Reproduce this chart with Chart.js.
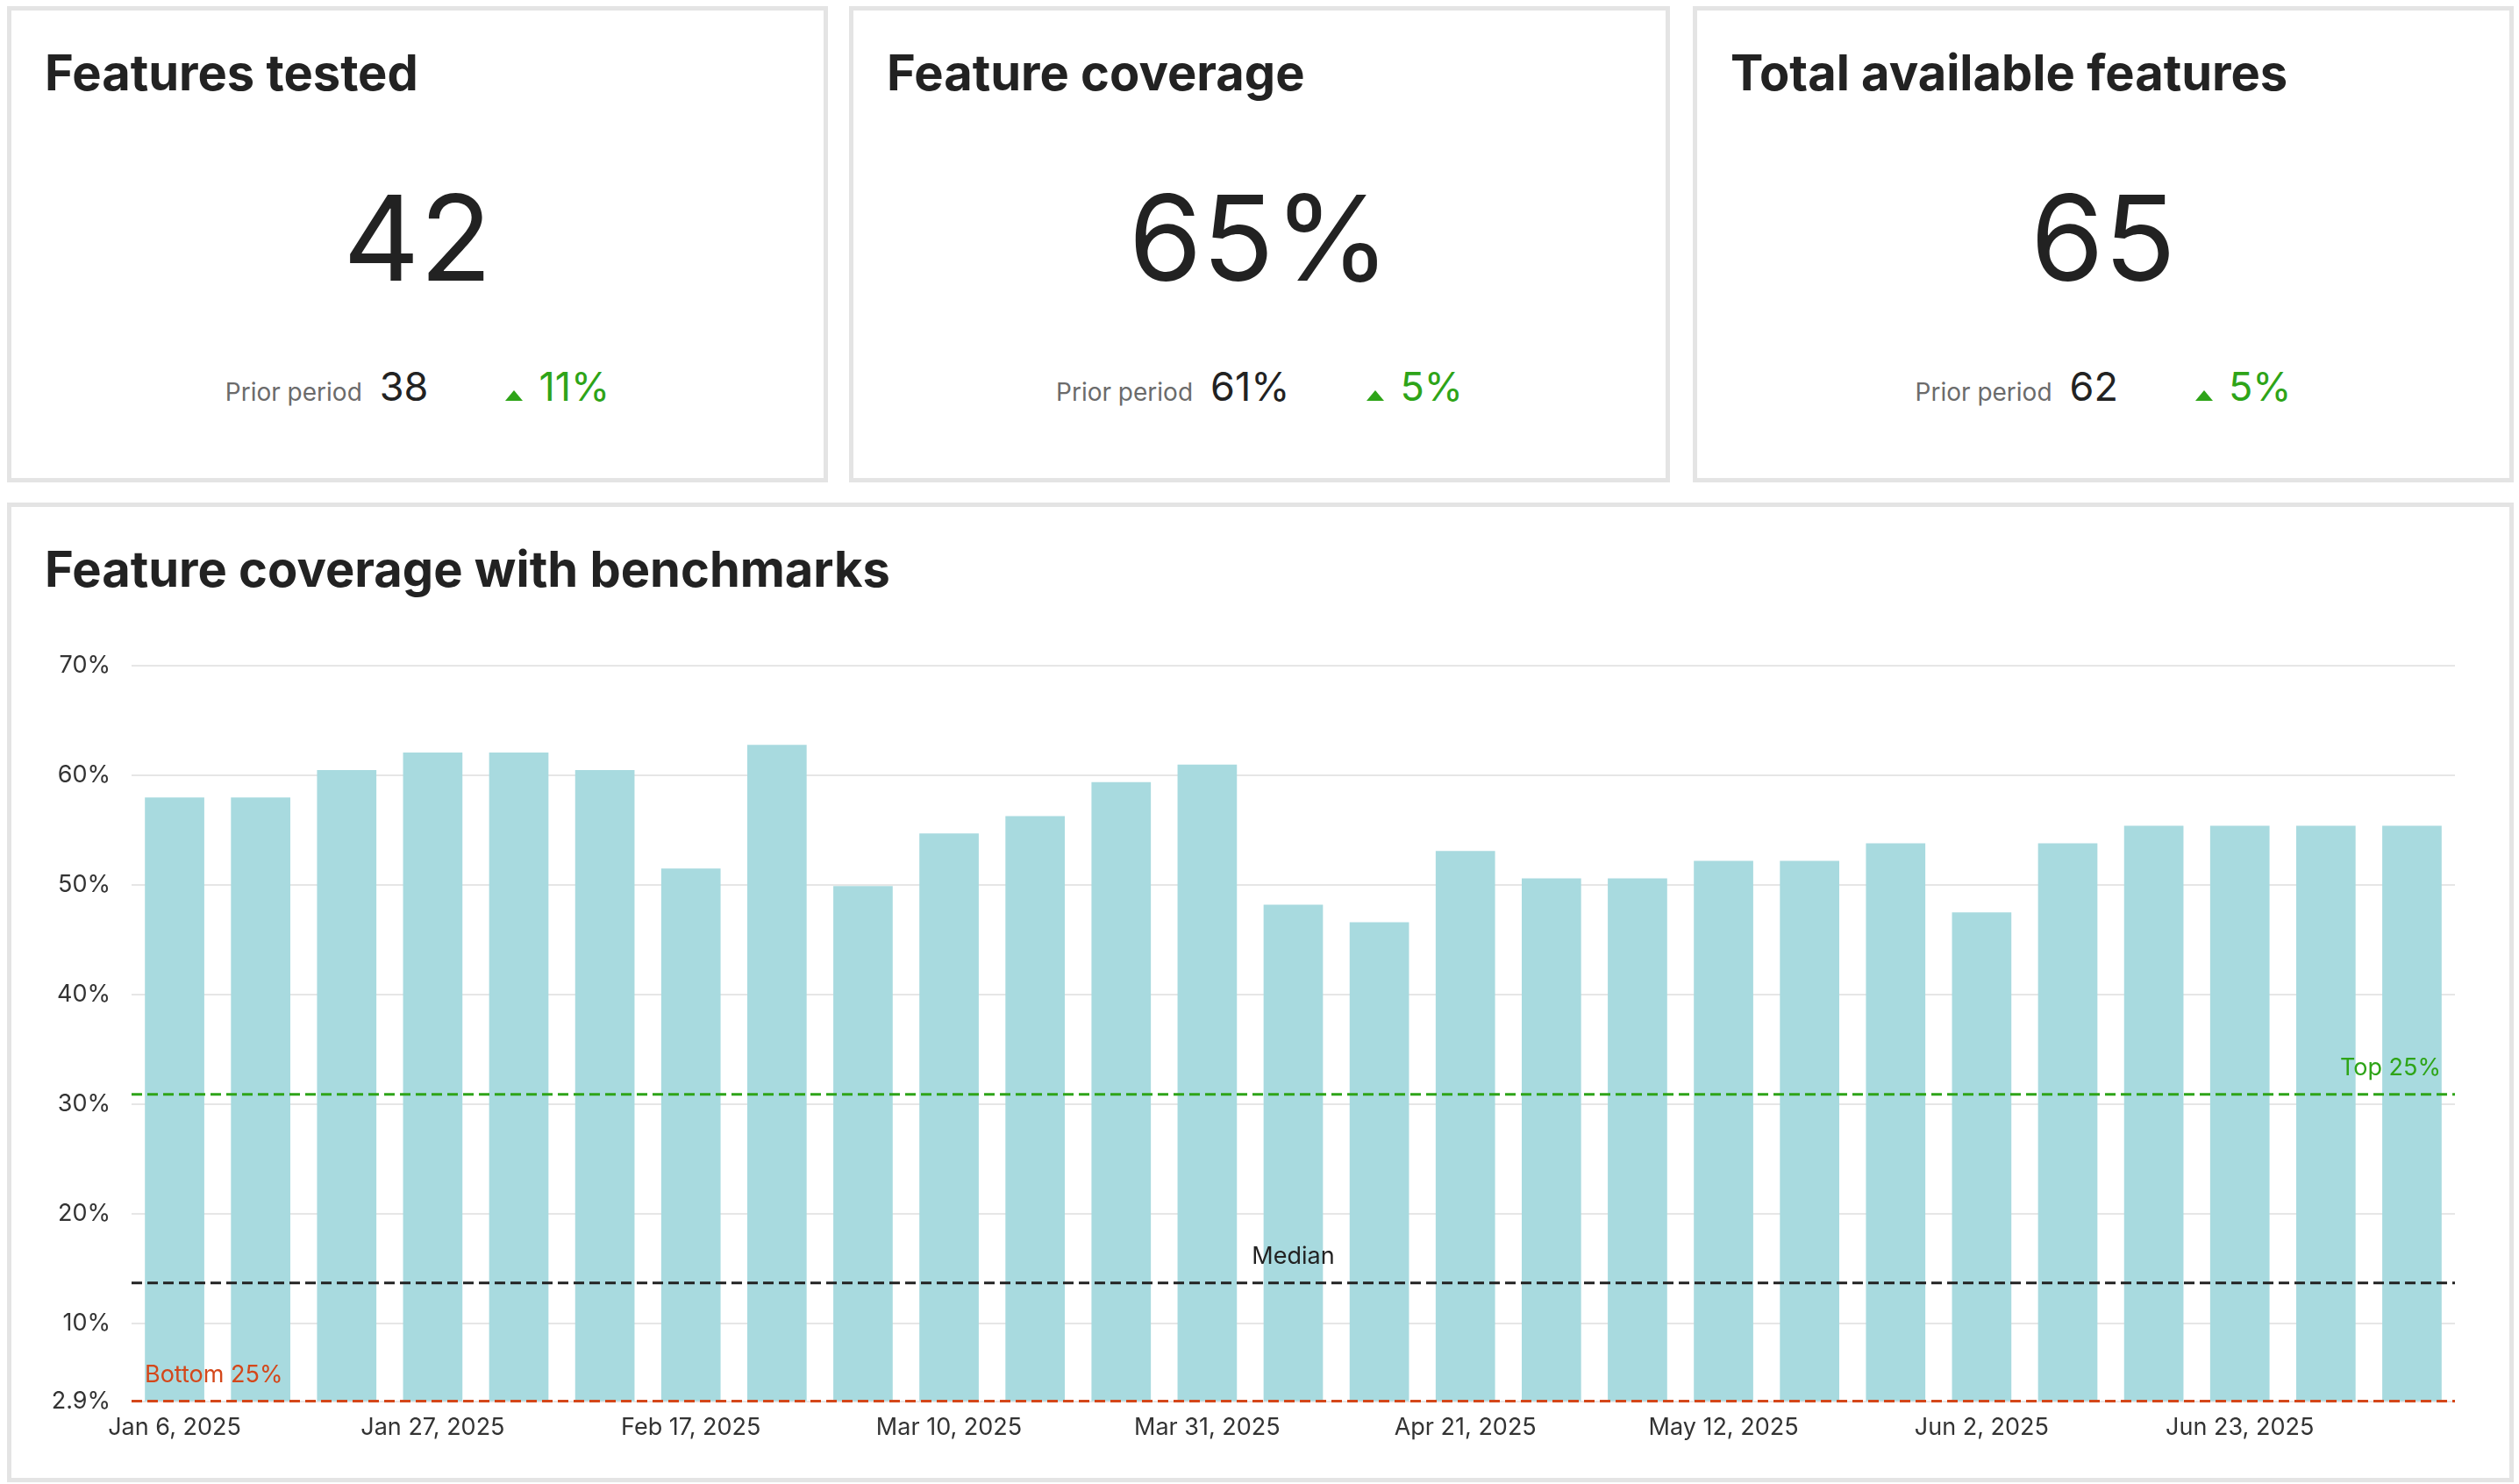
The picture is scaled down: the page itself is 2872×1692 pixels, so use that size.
<!DOCTYPE html>
<html>
<head>
<meta charset="utf-8">
<script src="https://cdn.jsdelivr.net/npm/chart.js@4.4.1/dist/chart.umd.min.js"></script>
<style>
body { margin: 0; background: #fff; font-family: Inter, "Noto Sans", sans-serif; color: #222; width: 2872px; height: 1692px; overflow: hidden; }
.card { position: absolute; box-sizing: border-box; border: 5px solid #e4e4e4; background: #fff; }
.kpi { top: 7px; width: 936px; height: 543px; }
.title { position: absolute; left: 38px; top: 43px; font-size: 56px; font-weight: 700; line-height: 56px; white-space: nowrap; }
.big { position: absolute; left: 0; right: 0; top: 192px; text-align: center; font-size: 135px; line-height: 135px; }
.prior { position: absolute; left: 0; right: 0; top: 406px; display: flex; justify-content: center; align-items: baseline; line-height: 45px; }
.prior .lbl { font-size: 28px; color: #6b6b6b; margin-right: 20px; }
.prior .val { font-size: 45px; color: #222; }
.prior .tri { display: inline-block; width: 0; height: 0; border-left: 10px solid transparent; border-right: 10px solid transparent; border-bottom: 12px solid #2ea418; margin-left: 88px; margin-bottom: 11px; }
.prior .chg { font-size: 45px; color: #2ea418; margin-left: 18px; }
#chartCard { left: 8px; top: 573px; width: 2858px; height: 1117px; }
#chartBox { position: absolute; left: 36px; top: 141px; width: 2760px; height: 943px; }
</style>
</head>
<body>
<div id="kpis"></div>
<div class="card" id="chartCard">
  <div class="title">Feature coverage with benchmarks</div>
  <div id="chartBox"><canvas id="myCanvas"></canvas></div>
</div>
<script>
// KPI tiles
const kpiTitles = ['Features tested', 'Feature coverage', 'Total available features'];
const kpiValues = ['42', '65%', '65'];
const kpiPrior = ['38', '61%', '62'];
const kpiChange = ['11%', '5%', '5%'];

// weekly coverage (%)
const weeks = ['Jan 6, 2025', 'Jan 13, 2025', 'Jan 20, 2025', 'Jan 27, 2025', 'Feb 3, 2025', 'Feb 10, 2025',
  'Feb 17, 2025', 'Feb 24, 2025', 'Mar 3, 2025', 'Mar 10, 2025', 'Mar 17, 2025', 'Mar 24, 2025',
  'Mar 31, 2025', 'Apr 7, 2025', 'Apr 14, 2025', 'Apr 21, 2025', 'Apr 28, 2025', 'May 5, 2025',
  'May 12, 2025', 'May 19, 2025', 'May 26, 2025', 'Jun 2, 2025', 'Jun 9, 2025', 'Jun 16, 2025',
  'Jun 23, 2025', 'Jun 30, 2025', 'Jul 7, 2025'];
const coverage = [58.0, 58.0, 60.5, 62.1, 62.1, 60.5, 51.5, 62.8, 49.9, 54.7, 56.3, 59.4, 61.0,
  48.2, 46.6, 53.1, 50.6, 50.6, 52.2, 52.2, 53.8, 47.5, 53.8, 55.4, 55.4, 55.4, 55.4];
const yTicks = [2.9, 10, 20, 30, 40, 50, 60, 70];
const benchmarkNames = ['Top 25%', 'Median', 'Bottom 25%'];
const benchmarkValues = [30.9, 13.7, 2.9];

function init() {
    const kpis = document.getElementById('kpis');
    const lefts = [8, 968, 1930];
    kpiTitles.forEach((t, i) => {
        const c = document.createElement('div');
        c.className = 'card kpi';
        c.style.left = lefts[i] + 'px';
        c.innerHTML = '<div class="title">' + t + '</div>' +
            '<div class="big">' + kpiValues[i] + '</div>' +
            '<div class="prior"><span class="lbl">Prior period</span><span class="val">' + kpiPrior[i] +
            '</span><span class="tri"></span><span class="chg">' + kpiChange[i] + '</span></div>';
        kpis.appendChild(c);
    });

    const benchStyle = {
        'Top 25%': { color: '#2ea418', align: 'right' },
        'Median': { color: '#222222', align: 'center' },
        'Bottom 25%': { color: '#d4471a', align: 'left' }
    };

    const benchmarks = {
        id: 'benchmarks',
        afterDatasetsDraw(chart) {
            const { ctx, chartArea, scales } = chart;
            benchmarkNames.forEach((name, i) => {
                const st = benchStyle[name];
                const py = scales.y.getPixelForValue(benchmarkValues[i]);
                ctx.save();
                ctx.strokeStyle = st.color;
                ctx.lineWidth = 3;
                ctx.setLineDash([12, 6]);
                ctx.beginPath();
                ctx.moveTo(chartArea.left, py);
                ctx.lineTo(chartArea.right, py);
                ctx.stroke();
                ctx.setLineDash([]);
                ctx.fillStyle = st.color;
                ctx.font = '27px Inter';
                ctx.textBaseline = 'alphabetic';
                ctx.textAlign = st.align;
                let x = (chartArea.left + chartArea.right) / 2;
                if (st.align === 'left') x = chartArea.left + 15;
                if (st.align === 'right') x = chartArea.right - 16;
                ctx.fillText(name, x, py - 22);
                ctx.restore();
            });
        }
    };

    Chart.defaults.font.family = 'Inter';
    const ctx = document.getElementById('myCanvas').getContext('2d');
    new Chart(ctx, {
        type: 'bar',
        data: {
            labels: weeks,
            datasets: [{
                label: 'Feature coverage',
                data: coverage,
                backgroundColor: '#a8dadf',
                categoryPercentage: 1,
                barPercentage: 0.69
            }]
        },
        options: {
            responsive: true,
            maintainAspectRatio: false,
            animation: false,
            devicePixelRatio: 1,
            layout: { padding: { top: 20, right: 10, bottom: 4, left: 0 } },
            plugins: { legend: { display: false }, tooltip: { enabled: false } },
            scales: {
                x: {
                    grid: { display: false, drawTicks: false },
                    border: { display: false },
                    ticks: {
                        autoSkip: false, maxRotation: 0, padding: 14, color: '#333',
                        font: { size: 27 },
                        callback: (v, i) => (i % 3 === 0 ? weeks[i] : '')
                    }
                },
                y: {
                    min: 2.9, max: 70,
                    afterBuildTicks: s => { s.ticks = yTicks.map(v => ({ value: v })); },
                    afterFit: s => { s.width = 101; },
                    grid: { color: '#e6e6e6', lineWidth: 2, drawTicks: false },
                    border: { display: false },
                    ticks: {
                        padding: 24, color: '#333', font: { size: 27 },
                        callback: v => v + '%'
                    }
                }
            }
        },
        plugins: [benchmarks]
    });
}

document.addEventListener('DOMContentLoaded', init);
</script>
</body>
</html>
